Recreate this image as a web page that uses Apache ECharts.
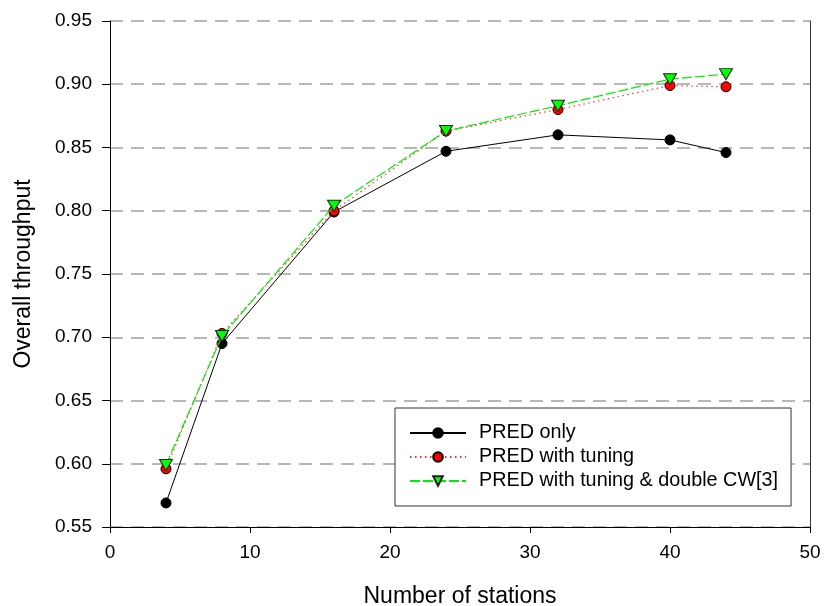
<!DOCTYPE html>
<html>
<head>
<meta charset="utf-8">
<script src="https://cdn.jsdelivr.net/npm/echarts@6/dist/echarts.min.js"></script>
<style>
html,body{margin:0;padding:0;background:#fff;}
#chart{width:824px;height:606px;}
</style>
</head>
<body>
<div id="chart"></div>
<script>
var stations = [4, 8, 16, 24, 32, 40, 44];
var predOnly = [0.569, 0.695, 0.799, 0.847, 0.860, 0.856, 0.846];
var predTuning = [0.596, 0.703, 0.800, 0.863, 0.880, 0.899, 0.898];
var predTuningDouble = [0.599, 0.701, 0.804, 0.863, 0.883, 0.904, 0.908];
var seriesNames = ['PRED only', 'PRED with tuning', 'PRED with tuning & double CW[3]'];
var xTicks = [0, 10, 20, 30, 40, 50];
var yTicks = [0.55, 0.60, 0.65, 0.70, 0.75, 0.80, 0.85, 0.90, 0.95];

function pairs(xs, ys) { return xs.map(function (x, i) { return [x, ys[i]]; }); }

var FONT = '"Liberation Sans", Arial, sans-serif';
var triDown = 'path://M0,0 L12,0 L6,10 Z';

var chart = echarts.init(document.getElementById('chart'), null, {renderer: 'canvas'});
chart.setOption({
  backgroundColor: '#ffffff',
  animation: false,
  textStyle: {fontFamily: FONT, color: '#000'},
  grid: {left: 110, right: 14, top: 21, bottom: 79, containLabel: false, outerBoundsMode: 'none'},
  legend: {
    show: true,
    left: 395, top: 408,
    orient: 'vertical',
    padding: [15, 13, 15, 14],
    itemGap: 4,
    itemWidth: 56,
    itemHeight: 12,
    backgroundColor: '#ffffff',
    borderColor: '#333',
    borderWidth: 1,
    borderRadius: 0,
    data: seriesNames,
    textStyle: {fontFamily: FONT, fontSize: 19.8, lineHeight: 20, color: '#000', padding: [0, 0, 0, 8]}
  },
  xAxis: {
    type: 'value',
    min: xTicks[0], max: xTicks[xTicks.length - 1], interval: 10,
    name: 'Number of stations',
    nameLocation: 'middle',
    nameGap: 58,
    nameTextStyle: {fontFamily: FONT, fontSize: 23, color: '#000'},
    axisLine: {show: true, lineStyle: {color: '#000', width: 1}},
    axisTick: {show: true, inside: false, length: 6, lineStyle: {color: '#000'}},
    axisLabel: {fontFamily: FONT, fontSize: 19, color: '#000', margin: 16},
    splitLine: {show: false}
  },
  yAxis: [{
    type: 'value',
    min: yTicks[0], max: yTicks[yTicks.length - 1], interval: 0.05,
    name: 'Overall throughput',
    nameLocation: 'middle',
    nameGap: 75,
    nameTextStyle: {fontFamily: FONT, fontSize: 23, color: '#000'},
    axisLine: {show: true, lineStyle: {color: '#000', width: 1}},
    axisTick: {show: true, inside: false, length: 8, lineStyle: {color: '#000'}},
    axisLabel: {fontFamily: FONT, fontSize: 19, color: '#000', margin: 18,
      formatter: function (v) { return v.toFixed(2); }},
    splitLine: {show: true, lineStyle: {color: '#a0a0a0', width: 1.5, type: [13, 8]}}
  }, {
    type: 'value',
    position: 'right',
    min: yTicks[0], max: yTicks[yTicks.length - 1], interval: 0.05,
    axisLine: {show: true, lineStyle: {color: '#333', width: 1}},
    axisTick: {show: false},
    axisLabel: {show: false},
    splitLine: {show: false}
  }],
  series: [{
    name: seriesNames[0],
    type: 'line',
    data: pairs(stations, predOnly),
    symbol: 'circle',
    symbolSize: 10,
    itemStyle: {color: '#000', borderColor: '#000', borderWidth: 1},
    lineStyle: {color: '#000', width: 1, type: 'solid'},
    z: 2
  }, {
    name: seriesNames[1],
    type: 'line',
    data: pairs(stations, predTuning),
    symbol: 'circle',
    symbolSize: 10,
    itemStyle: {color: '#ff0000', borderColor: '#000', borderWidth: 1},
    lineStyle: {color: '#ff3030', width: 1.2, type: [1.5, 3.5]},
    z: 3
  }, {
    name: seriesNames[2],
    type: 'line',
    data: pairs(stations, predTuningDouble),
    symbol: triDown,
    symbolSize: [13, 11],
    itemStyle: {color: '#00ff00', borderColor: '#222', borderWidth: 1},
    lineStyle: {color: '#00ee00', width: 1.2, type: [10, 3]},
    z: 4
  }]
});
</script>
</body>
</html>
